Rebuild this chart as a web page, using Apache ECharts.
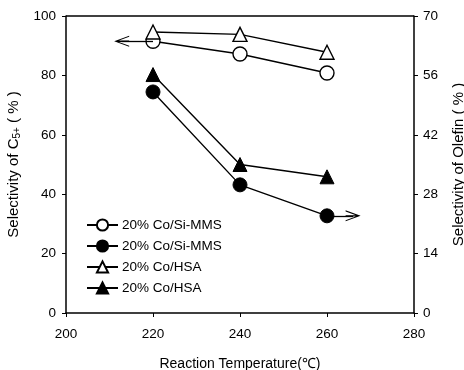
<!DOCTYPE html>
<html>
<head>
<meta charset="utf-8">
<script src="https://cdn.jsdelivr.net/npm/echarts@6/dist/echarts.min.js"></script>
<style>
  html, body { margin: 0; padding: 0; background: #fff; }
  #chart { width: 464px; height: 370px; }
</style>
</head>
<body>
<div id="chart"></div>
<script>
// reaction temperatures
const temps = [220, 240, 260];
// C5+ selectivity (left axis, %)
const c5SiMMS = [91.5, 87.2, 80.8];
const c5HSA = [94.6, 93.8, 87.8];
// olefin selectivity (right axis, %)
const olefinSiMMS = [52.1, 30.2, 22.9];
const olefinHSA = [56.2, 35.0, 32.1];
// arrows telling which axis a curve belongs to
const arrowLeft = [[220, 91.5], [212.8, 91.5]];
const arrowRight = [[260, 22.9], [266, 22.9]];

const legendLabels = {
    'c5 Si-MMS': '20% Co/Si-MMS',
    'olefin Si-MMS': '20% Co/Si-MMS',
    'c5 HSA': '20% Co/HSA',
    'olefin HSA': '20% Co/HSA'
};

// open arrow head with a short stem, tip pointing up (ECharts rotates it)
const chevron = 'path://M5,0 L10,10 L9,10 L5.6,3.2 L5.6,10 L4.4,10 L4.4,3.2 L1,10 L0,10 Z';
const font = 'Liberation Sans, Arial, sans-serif';

window.addEventListener('DOMContentLoaded', () => {
    const myChart = echarts.init(document.getElementById('chart'), null, { renderer: 'canvas' });

    const pairs = (ys) => temps.map((t, i) => [t, ys[i]]);
    const arrow = (pts) => ({
        silent: true,
        symbol: ['none', chevron],
        symbolSize: [11, 15],
        label: { show: false },
        lineStyle: { color: '#000', width: 1.3, type: 'solid' },
        data: [[{ coord: pts[0] }, { coord: pts[1] }]]
    });
    const baseLine = {
        type: 'line',
        symbolSize: 14,
        lineStyle: { color: '#000', width: 1.4 },
        emphasis: { disabled: true },
        z: 3
    };

    myChart.setOption({
        animation: false,
        textStyle: { fontFamily: font },
        grid: { left: 66, right: 50, top: 16, bottom: 57, containLabel: false, outerBoundsMode: 'none' },
        legend: {
            orient: 'vertical',
            left: 81,
            top: 213,
            itemGap: 7,
            itemWidth: 31,
            itemHeight: 14,
            textStyle: { fontSize: 13.5, color: '#000', fontFamily: font, padding: [0, 0, 0, -1] },
            formatter: name => legendLabels[name],
            data: ['c5 Si-MMS', 'olefin Si-MMS', 'c5 HSA', 'olefin HSA']
        },
        xAxis: {
            type: 'value',
            min: 200,
            max: 280,
            interval: 20,
            name: 'Reaction Temperature(℃)',
            nameLocation: 'middle',
            nameGap: 44,
            nameTextStyle: { fontSize: 14, color: '#000' },
            axisLine: { lineStyle: { color: '#000', width: 1.5 } },
            axisTick: { lineStyle: { color: '#000' }, length: 4 },
            axisLabel: { fontSize: 13.5, color: '#000', margin: 14 },
            splitLine: { show: false }
        },
        yAxis: [
            {
                type: 'value',
                min: 0,
                max: 100,
                interval: 20,
                name: '{a|Selectivity of C}{s|5+}{a| ( % )}',
                nameLocation: 'middle',
                nameGap: 42,
                nameRotate: 90,
                nameTextStyle: {
                    rich: {
                        a: { fontSize: 15, color: '#000', fontFamily: font },
                        s: { fontSize: 10, color: '#000', fontFamily: font, verticalAlign: 'bottom', padding: [7, 0, 0, 0] }
                    }
                },
                axisLine: { show: true, lineStyle: { color: '#000', width: 1.5 } },
                axisTick: { show: true, lineStyle: { color: '#000' }, length: 4 },
                axisLabel: { fontSize: 13.5, color: '#000', margin: 10 },
                splitLine: { show: false }
            },
            {
                type: 'value',
                min: 0,
                max: 70,
                interval: 14,
                position: 'right',
                name: 'Selectivity of Olefin ( % )',
                nameLocation: 'middle',
                nameGap: 37,
                nameRotate: 90,
                nameTextStyle: { fontSize: 15, color: '#000' },
                axisLine: { show: true, lineStyle: { color: '#000', width: 1.5 } },
                axisTick: { show: true, lineStyle: { color: '#000' }, length: 4 },
                axisLabel: { fontSize: 13.5, color: '#000', margin: 9 },
                splitLine: { show: false }
            }
        ],
        graphic: [],
        series: [
            Object.assign({}, baseLine, {
                name: 'c5 Si-MMS',
                yAxisIndex: 0,
                symbol: 'circle',
                itemStyle: { color: '#fff', borderColor: '#000', borderWidth: 1.4 },
                data: pairs(c5SiMMS),
                markLine: arrow(arrowLeft)
            }),
            Object.assign({}, baseLine, {
                name: 'olefin Si-MMS',
                yAxisIndex: 1,
                symbol: 'circle',
                itemStyle: { color: '#000', borderColor: '#000', borderWidth: 1 },
                data: pairs(olefinSiMMS),
                markLine: arrow(arrowRight)
            }),
            Object.assign({}, baseLine, {
                name: 'c5 HSA',
                yAxisIndex: 0,
                symbol: 'triangle',
                itemStyle: { color: '#fff', borderColor: '#000', borderWidth: 1.4 },
                data: pairs(c5HSA)
            }),
            Object.assign({}, baseLine, {
                name: 'olefin HSA',
                yAxisIndex: 1,
                symbol: 'triangle',
                itemStyle: { color: '#000', borderColor: '#000', borderWidth: 1 },
                data: pairs(olefinHSA)
            })
        ]
    });

    // top frame line, drawn along the grid's upper edge
    const topLeft = myChart.convertToPixel({ xAxisIndex: 0, yAxisIndex: 0 }, [200, 100]);
    const topRight = myChart.convertToPixel({ xAxisIndex: 0, yAxisIndex: 0 }, [280, 100]);
    myChart.setOption({
        graphic: [{
            type: 'line',
            shape: { x1: topLeft[0], y1: topLeft[1], x2: topRight[0], y2: topRight[1] },
            style: { stroke: '#000', lineWidth: 1.5 },
            silent: true
        }]
    });
});
</script>
</body>
</html>
